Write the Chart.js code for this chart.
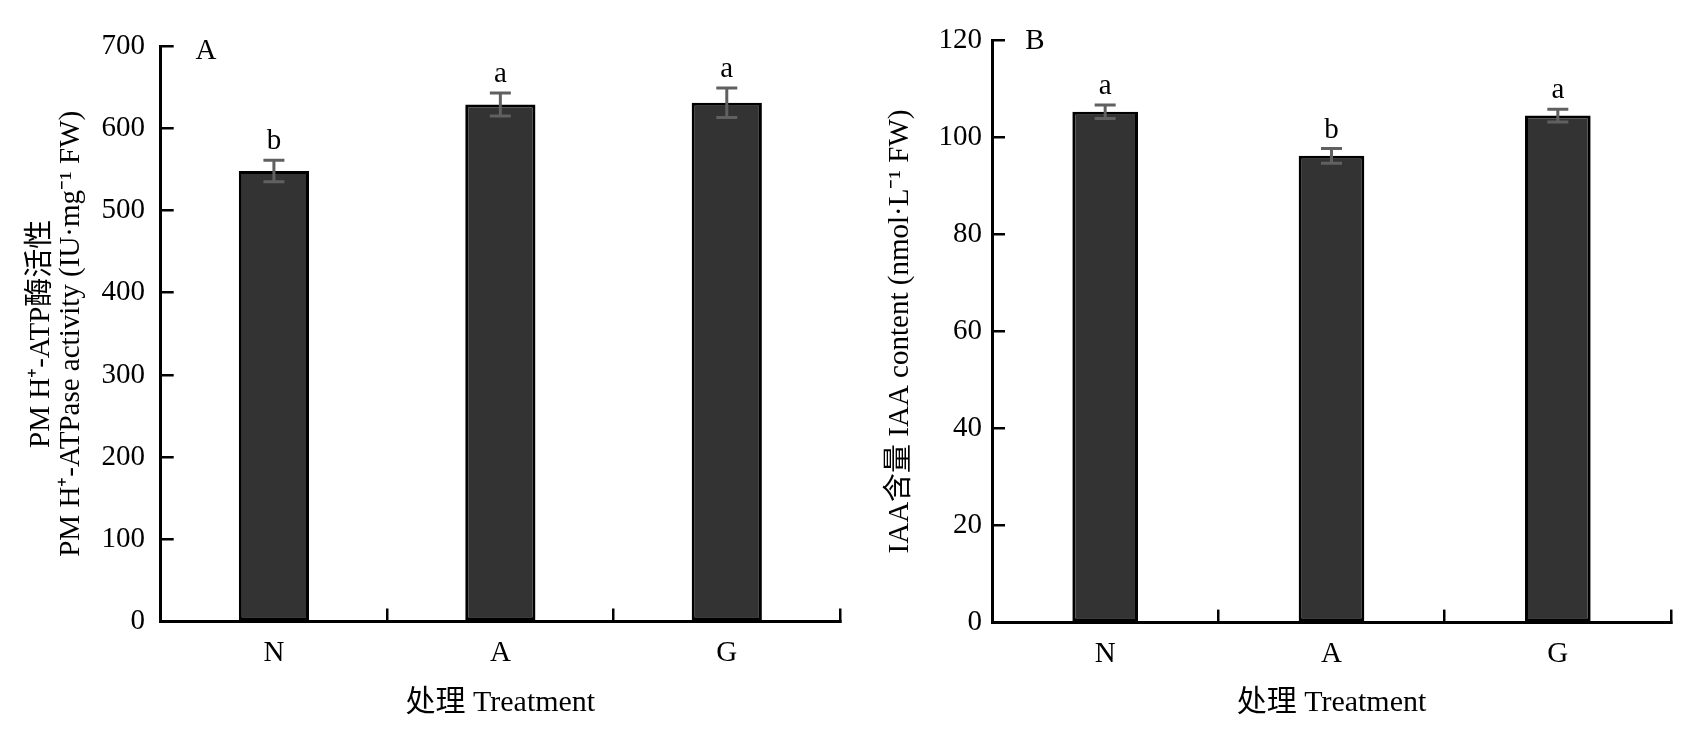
<!DOCTYPE html>
<html>
<head>
<meta charset="utf-8">
<script src="https://cdn.jsdelivr.net/npm/chart.js@4"></script>
<style>
  body { margin: 0; background: #fff; }
  canvas { position: absolute; top: 0; }
  #grafikAtpase { left: 0; }
  #grafikIaa { left: 845px; }
</style>
</head>
<body>
<canvas id="grafikAtpase" width="845" height="737"></canvas>
<canvas id="grafikIaa" width="844" height="737"></canvas>
<script>
// Data
const perlakuan = ["N", "A", "G"];

const atpaseNilai = [548, 629, 631];
const atpaseSE = [13, 14, 18];
const atpaseHuruf = ["b", "a", "a"];
const atpaseTicks = [0, 100, 200, 300, 400, 500, 600, 700];

const iaaNilai = [105.3, 96.2, 104.5];
const iaaSE = [1.4, 1.5, 1.3];
const iaaHuruf = ["a", "b", "a"];
const iaaTicks = [0, 20, 40, 60, 80, 100, 120];

const FONT = "'Liberation Serif', 'Noto Sans CJK SC', serif";

// Error bar + huruf signifikansi + label panel
const errorBarPlugin = {
    id: "errorBar",
    afterDatasetsDraw(chart, args, opts) {
        const ctx = chart.ctx;
        const y = chart.scales.y;
        const bars = chart.getDatasetMeta(0).data;
        ctx.save();
        bars.forEach((bar, i) => {
            const v = opts.nilai[i];
            const e = opts.se[i];
            const yTop = y.getPixelForValue(v + e);
            const yBot = y.getPixelForValue(v - e);
            ctx.strokeStyle = "#606060";
            ctx.lineWidth = 3;
            ctx.beginPath();
            ctx.moveTo(bar.x, yTop);
            ctx.lineTo(bar.x, yBot);
            ctx.moveTo(bar.x - 10.5, yTop);
            ctx.lineTo(bar.x + 10.5, yTop);
            ctx.moveTo(bar.x - 10.5, yBot);
            ctx.lineTo(bar.x + 10.5, yBot);
            ctx.stroke();

            ctx.fillStyle = "#000";
            ctx.font = "29px " + FONT;
            ctx.textAlign = "center";
            ctx.textBaseline = "alphabetic";
            ctx.fillText(opts.huruf[i], bar.x, yTop - 11);
        });
        ctx.font = "29px " + FONT;
        ctx.textAlign = "center";
        ctx.textBaseline = "middle";
        ctx.fillText(opts.panel, opts.panelX, opts.panelY);
        ctx.restore();
    }
};

function buatGrafik(id, cfg) {
    const ctx = document.getElementById(id).getContext("2d");
    return new Chart(ctx, {
        type: "bar",
        data: {
            labels: perlakuan,
            datasets: [{
                data: cfg.nilai,
                backgroundColor: "#333333",
                borderColor: "#000000",
                borderWidth: 3,
                borderSkipped: false,
                barPercentage: cfg.barPct,
                categoryPercentage: 1
            }]
        },
        options: {
            responsive: false,
            animation: false,
            layout: { padding: { left: 0, top: cfg.top, right: cfg.right, bottom: 0 } },
            plugins: {
                legend: { display: false },
                tooltip: { enabled: false },
                errorBar: {
                    nilai: cfg.nilai, se: cfg.se, huruf: cfg.huruf,
                    panel: cfg.panel, panelX: cfg.panelX, panelY: cfg.panelY
                }
            },
            scales: {
                x: {
                    afterFit: s => { s.height = cfg.xHeight; },
                    grid: {
                        drawOnChartArea: false,
                        color: "#000",
                        lineWidth: 2.5,
                        tickLength: -13,
                        offset: true
                    },
                    border: { color: "#000", width: 3 },
                    ticks: { color: "#000", font: { family: FONT, size: 29 }, padding: 27 },
                    title: {
                        display: true,
                        text: "处理 Treatment",
                        color: "#000",
                        font: { family: FONT, size: 30 },
                        padding: { top: 0, bottom: 16 }
                    }
                },
                y: {
                    min: cfg.ticks[0],
                    max: cfg.ticks[cfg.ticks.length - 1],
                    afterFit: s => { s.width = cfg.yWidth; },
                    afterBuildTicks: s => { s.ticks = cfg.ticks.map(v => ({ value: v })); },
                    grid: {
                        drawOnChartArea: false,
                        color: "#000",
                        lineWidth: 2.5,
                        tickLength: -13
                    },
                    border: { color: "#000", width: 3 },
                    ticks: { color: "#000", font: { family: FONT, size: 29 }, padding: cfg.yPad },
                    title: {
                        display: true,
                        text: cfg.judulY,
                        color: "#000",
                        font: { family: FONT, size: 29, lineHeight: 1.05 },
                        padding: { top: cfg.judulPad, bottom: 0 }
                    }
                }
            }
        },
        plugins: [errorBarPlugin]
    });
}

buatGrafik("grafikAtpase", {
    nilai: atpaseNilai, se: atpaseSE, huruf: atpaseHuruf, ticks: atpaseTicks,
    judulY: ["PM H⁺-ATP酶活性", "PM H⁺-ATPase activity (IU·mg⁻¹ FW)"],
    top: 33.5, right: 5, xHeight: 115.5, yWidth: 160.7, yPad: 28.7, judulPad: 26,
    barPct: 0.31, panel: "A", panelX: 206, panelY: 51
});

buatGrafik("grafikIaa", {
    nilai: iaaNilai, se: iaaSE, huruf: iaaHuruf, ticks: iaaTicks,
    judulY: "IAA含量 IAA content (nmol·L⁻¹ FW)",
    top: 29, right: 18, xHeight: 114.4, yWidth: 147, yPad: 23, judulPad: 40,
    barPct: 0.29, panel: "B", panelX: 190, panelY: 41
});
</script>
</body>
</html>
